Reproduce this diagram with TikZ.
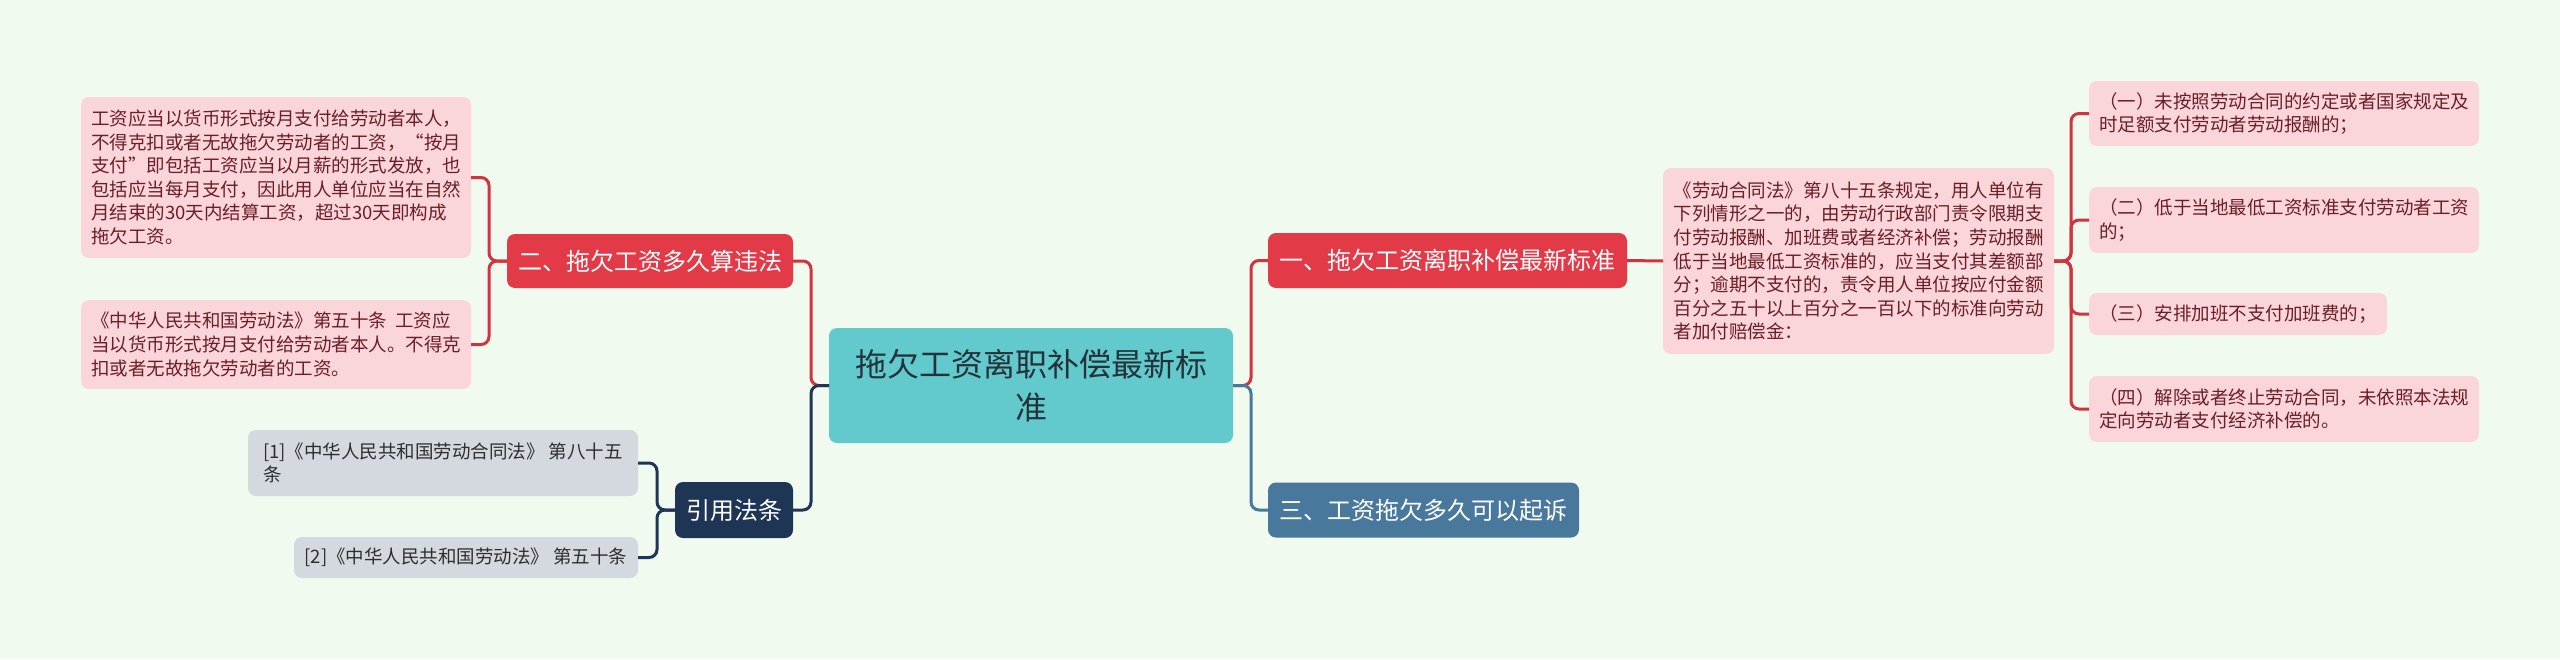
\documentclass[tikz,border=0pt]{standalone}
\usepackage{fontspec}
\setmainfont{Noto Sans CJK SC}
\definecolor{bgc}{HTML}{F0FAEF}
\definecolor{rootc}{HTML}{62CACD}
\definecolor{roottxt}{HTML}{24323A}
\definecolor{redc}{HTML}{E23A47}
\definecolor{bluec}{HTML}{48799C}
\definecolor{navyc}{HTML}{1E3556}
\definecolor{pinkc}{HTML}{FAD6DB}
\definecolor{pinktxt}{HTML}{6B1E25}
\definecolor{greyc}{HTML}{D4D8DF}
\definecolor{greytxt}{HTML}{2E2E2E}
\definecolor{redln}{HTML}{D3323F}
\begin{document}
\begin{tikzpicture}[x=1pt,y=-1pt,
  box/.style={rounded corners=8pt, inner sep=0pt, outer sep=0pt},
  rootbox/.style={box, fill=rootc, text=roottxt, align=center,
    font={\fontsize{32}{43}\selectfont}},
  mainbox/.style={box, text=white, align=center,
    font={\fontsize{24}{30}\selectfont}},
  pinkleaf/.style={box, fill=pinkc, text=pinktxt, align=left,
    font={\fontsize{18.5}{23.6}\selectfont}},
  greyleaf/.style={box, fill=greyc, text=greytxt, align=left,
    font={\fontsize{18.5}{23.6}\selectfont}},
  conn/.style={line width=3pt, rounded corners=8pt},
  redline/.style={conn, draw=redln},
  blueline/.style={conn, draw=bluec},
  navyline/.style={conn, draw=navyc}]
\fill[bgc] (0,0) rectangle (2560,659);
\useasboundingbox (0,0) rectangle (2560,659);

% root
\node[rootbox, minimum width=404pt, minimum height=115pt] (root) at (1031,385.5)
  {拖欠工资离职补偿最新标\\准};

% main branches
\node[mainbox, fill=redc, anchor=west, minimum width=359pt, minimum height=55pt] (n1) at (1268,260.5)
  {一、拖欠工资离职补偿最新标准};
\node[mainbox, fill=bluec, anchor=west, minimum width=311pt, minimum height=55pt] (n3) at (1268,510)
  {三、工资拖欠多久可以起诉};
\node[mainbox, fill=redc, anchor=east, minimum width=286pt, minimum height=54pt] (n2) at (793,261)
  {二、拖欠工资多久算违法};
\node[mainbox, fill=navyc, anchor=east, minimum width=118pt, minimum height=56pt] (nref) at (793,510)
  {引用法条};

% left pink leaves
\node[pinkleaf, anchor=east, minimum width=390pt, minimum height=161pt] (L1) at (471,177.5)
  {工资应当以货币形式按月支付给劳动者本人，\\
   不得克扣或者无故拖欠劳动者的工资，“按月\\
   支付”即包括工资应当以月薪的形式发放，也\\
   包括应当每月支付，因此用人单位应当在自然\\
   月结束的30天内结算工资，超过30天即构成\\
   拖欠工资。};
\node[pinkleaf, anchor=east, minimum width=390pt, minimum height=89pt] (L2) at (471,344.5)
  {《中华人民共和国劳动法》第五十条\ \ 工资应\\
   当以货币形式按月支付给劳动者本人。不得克\\
   扣或者无故拖欠劳动者的工资。};

% grey leaves
\node[greyleaf, anchor=east, minimum width=390pt, minimum height=66pt] (G1) at (638,463)
  {[1]《中华人民共和国劳动合同法》 第八十五\\条};
\node[greyleaf, anchor=east, minimum width=344pt, minimum height=41pt] (G2) at (638,557.5)
  {[2]《中华人民共和国劳动法》 第五十条};

% right middle pink
\node[pinkleaf, anchor=west, minimum width=391pt, minimum height=186pt] (M) at (1663,261)
  {《劳动合同法》第八十五条规定，用人单位有\\
   下列情形之一的，由劳动行政部门责令限期支\\
   付劳动报酬、加班费或者经济补偿；劳动报酬\\
   低于当地最低工资标准的，应当支付其差额部\\
   分；逾期不支付的，责令用人单位按应付金额\\
   百分之五十以上百分之一百以下的标准向劳动\\
   者加付赔偿金：};

% right leaves
\node[pinkleaf, anchor=west, minimum width=390pt, minimum height=65pt] (R1) at (2089,113.5)
  {（一）未按照劳动合同的约定或者国家规定及\\时足额支付劳动者劳动报酬的；};
\node[pinkleaf, anchor=west, minimum width=390pt, minimum height=66pt] (R2) at (2089,220)
  {（二）低于当地最低工资标准支付劳动者工资\\的；};
\node[pinkleaf, anchor=west, minimum width=298pt, minimum height=42pt] (R3) at (2089,314)
  {（三）安排加班不支付加班费的；};
\node[pinkleaf, anchor=west, minimum width=390pt, minimum height=66pt] (R4) at (2089,409)
  {（四）解除或者终止劳动合同，未依照本法规\\定向劳动者支付经济补偿的。};

% connectors
\draw[redline] (root.east) -- ++(18,0) |- (n1.west);
\draw[blueline] (root.east) -- ++(18,0) |- (n3.west);
\draw[redline] (root.west) -- ++(-18,0) |- (n2.east);
\draw[navyline] (root.west) -- ++(-18,0) |- (nref.east);

\draw[redline] (n2.west) -- ++(-18,0) |- (L1.east);
\draw[redline] (n2.west) -- ++(-18,0) |- (L2.east);

\draw[navyline] (nref.west) -- ++(-18,0) |- (G1.east);
\draw[navyline] (nref.west) -- ++(-18,0) |- (G2.east);

\draw[redline] (n1.east) -- (M.west);

\draw[redline] (M.east) -- ++(17,0) |- (R1.west);
\draw[redline] (M.east) -- ++(17,0) |- (R2.west);
\draw[redline] (M.east) -- ++(17,0) |- (R3.west);
\draw[redline] (M.east) -- ++(17,0) |- (R4.west);
\end{tikzpicture}
\end{document}
